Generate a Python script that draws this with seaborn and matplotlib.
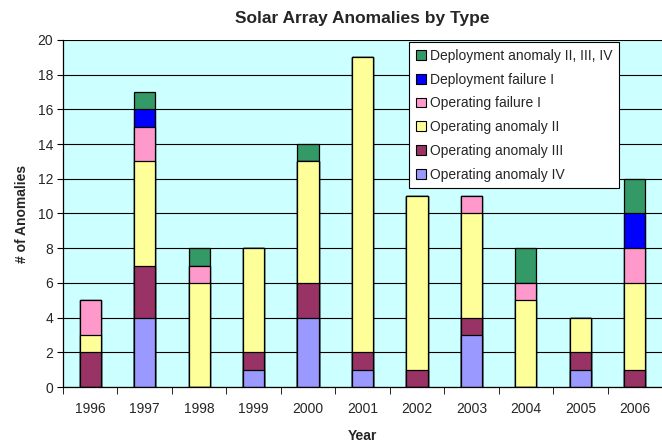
import matplotlib
matplotlib.use("Agg")
import matplotlib.pyplot as plt
import seaborn as sns
import numpy as np
import pandas as pd
from matplotlib.patches import Patch

years = ["1996", "1997", "1998", "1999", "2000", "2001", "2002", "2003", "2004", "2005", "2006"]
op_anomaly_iv = [0, 4, 0, 1, 4, 1, 0, 3, 0, 1, 0]
op_anomaly_iii = [2, 3, 0, 1, 2, 1, 1, 1, 0, 1, 1]
op_anomaly_ii = [1, 6, 6, 6, 7, 17, 10, 6, 5, 2, 5]
op_failure_i = [2, 2, 1, 0, 0, 0, 0, 1, 1, 0, 2]
dep_failure_i = [0, 1, 0, 0, 0, 0, 0, 0, 0, 0, 2]
dep_anomaly = [0, 1, 1, 0, 1, 0, 0, 0, 2, 0, 2]

series_names = ["Operating anomaly IV", "Operating anomaly III", "Operating anomaly II",
                "Operating failure I", "Deployment failure I", "Deployment anomaly II, III, IV"]
series_vals = [op_anomaly_iv, op_anomaly_iii, op_anomaly_ii, op_failure_i, dep_failure_i, dep_anomaly]
colors = ["#9999FF", "#993366", "#FFFF99", "#FF99CC", "#0000FF", "#339966"]

sns.set_style("white")
plt.rcParams['font.family'] = ['Liberation Sans', 'DejaVu Sans']

fig = plt.figure(figsize=(6.62, 4.44), dpi=100)
ax = fig.add_axes([63/662, 1-387/444, 599/662, 347/444])
ax.set_facecolor("#CCFFFF")

cum = np.cumsum(np.array(series_vals), axis=0)
# draw from top of stack downward so lower segments overlay
for i in range(len(series_names) - 1, -1, -1):
    df = pd.DataFrame({"year": years, "value": cum[i]})
    sns.barplot(data=df, x="year", y="value", color=colors[i], width=0.39,
                edgecolor="black", linewidth=0.9, saturation=1, ax=ax, zorder=2)

ax.set_ylim(0, 20)
ax.set_xlim(-0.5, len(years) - 0.5)
ax.set_yticks(range(0, 21, 2))
ax.yaxis.grid(True, color="black", linewidth=0.8, zorder=0)
ax.set_axisbelow(True)
for s in ["top", "right"]:
    ax.spines[s].set_visible(False)
for s in ["left", "bottom"]:
    ax.spines[s].set_color("black")
    ax.spines[s].set_linewidth(0.9)

ax.tick_params(axis="y", which="major", length=4, direction="out", color="black",
               labelsize=10, left=True, pad=3)
ax.tick_params(axis="x", which="major", length=0, labelsize=10, pad=11)
ax.set_xticks(np.arange(-0.5, len(years) + 0.5, 1), minor=True)
ax.tick_params(axis="x", which="minor", length=5, direction="out", color="black", bottom=True)

ax.set_xlabel("Year", fontsize=10, fontweight="bold", labelpad=9)
ax.set_ylabel("# of Anomalies", fontsize=10, fontweight="bold", labelpad=6)
ax.set_title("Solar Array Anomalies by Type", fontsize=12.5, fontweight="bold", pad=12)

handles = [Patch(facecolor=colors[i], edgecolor="black", linewidth=0.8, label=series_names[i])
           for i in range(len(series_names) - 1, -1, -1)]
leg = ax.legend(handles=handles, loc="upper left", bbox_to_anchor=(346/599, 1 - 2/347),
                frameon=True, fancybox=False, shadow=False, fontsize=10,
                handlelength=0.7, handleheight=0.7, handletextpad=0.3,
                labelspacing=0.7, borderpad=0.5, borderaxespad=0)
leg.get_frame().set_edgecolor("black")
leg.get_frame().set_linewidth(0.8)
leg.get_frame().set_facecolor("white")
leg.get_frame().set_alpha(1)

fig.savefig("out.png", dpi=100, facecolor="white")
